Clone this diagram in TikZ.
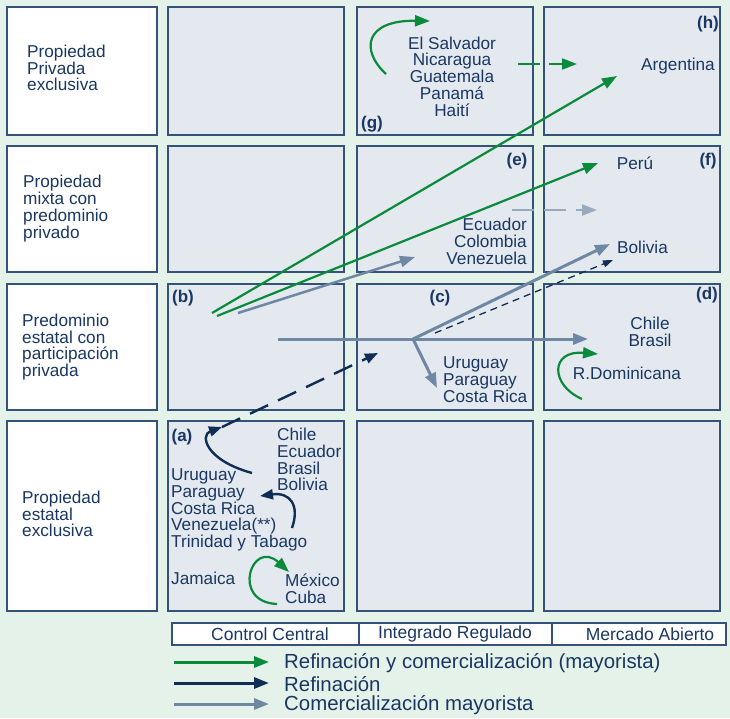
\documentclass[tikz,border=0pt]{standalone}
\usepackage{fontspec}
\setmainfont{Liberation Sans}
\usetikzlibrary{arrows.meta}
\definecolor{bgc}{HTML}{E4F2E9}
\definecolor{cellfill}{HTML}{E4E9EF}
\definecolor{cellline}{HTML}{34527A}
\definecolor{textc}{HTML}{1A3764}
\definecolor{grn}{HTML}{0A8B3C}
\definecolor{navy}{HTML}{0F2D55}
\definecolor{slate}{HTML}{6E87A2}
\definecolor{paleslate}{HTML}{9AAABD}
\begin{document}
\begin{tikzpicture}[x=1pt,y=-1pt,
  cellbox/.style={draw=cellline, fill=cellfill, line width=1.4pt, inner sep=0pt, outer sep=0pt, anchor=north west, minimum width=176pt},
  rowbox/.style={draw=cellline, fill=white, line width=1.4pt, inner sep=0pt, outer sep=0pt, anchor=north west, minimum width=150pt},
  legbox/.style={draw=cellline, fill=white, line width=1.4pt, inner sep=0pt, outer sep=0pt, anchor=north west, minimum height=22pt},
  txt/.style={text=textc, font=\fontsize{17.2}{16.75}\selectfont, inner sep=0pt},
  lettertag/.style={text=textc, font=\fontsize{17}{17}\selectfont\bfseries, inner sep=0pt},
  legtxt/.style={text=textc, font=\fontsize{20.4}{20.4}\selectfont, inner sep=0pt, anchor=west},
  bighead/.style={-{Triangle[length=15pt,width=11pt]}},
  grnarrow/.style={draw=grn, line width=2.2pt, bighead},
  slatearrow/.style={draw=slate, line width=3pt, bighead},
  navyarrow/.style={draw=navy, line width=2.4pt, -{Triangle[length=13pt,width=10pt]}}
]
\useasboundingbox (0,0) rectangle (730,718);
\fill[bgc] (0,0) rectangle (730,718);

% row headings
\node[rowbox, minimum height=128pt] (r1) at (7,7) {};
\node[rowbox, minimum height=126pt] (r2) at (7,146) {};
\node[rowbox, minimum height=126pt] (r3) at (7,284) {};
\node[rowbox, minimum height=190pt] (r4) at (7,421) {};
\node[txt, anchor=west, align=left] (r1t) at (27,68) {Propiedad\\Privada\\exclusiva};
\node[txt, anchor=west, align=left] (r2t) at (23,208.5) {Propiedad\\mixta con\\predominio\\privado};
\node[txt, anchor=west, align=left] (r3t) at (22,347) {Predominio\\estatal con\\participación\\privada};
\node[txt, anchor=west, align=left] (r4t) at (22,514) {Propiedad\\estatal\\exclusiva};

% matrix cells
\foreach \cx/\col in {168/1,357/2,544/3}{
  \node[cellbox, minimum height=128pt] (c1\col) at (\cx,7) {};
  \node[cellbox, minimum height=126pt] (c2\col) at (\cx,146) {};
  \node[cellbox, minimum height=126pt] (c3\col) at (\cx,284) {};
  \node[cellbox, minimum height=190pt] (c4\col) at (\cx,421) {};
}

% cell letters
\node[lettertag] (ta) at (182,437) {(a)};
\node[lettertag] (tb) at (183,298) {(b)};
\node[lettertag] (tc) at (440,298) {(c)};
\node[lettertag] (td) at (707,295) {(d)};
\node[lettertag] (te) at (517,161) {(e)};
\node[lettertag] (tf) at (708,161) {(f)};
\node[lettertag] (tg) at (372,124) {(g)};
\node[lettertag] (th) at (708,24) {(h)};

% country groups
\node[txt, align=center] (gG) at (452,76.5) {El Salvador\\Nicaragua\\Guatemala\\Panamá\\Haití};
\node[txt] (gH) at (678,66) {Argentina};
\node[txt, anchor=east, align=right] (gE) at (527,241.5) {Ecuador\\Colombia\\Venezuela};
\node[txt] (gF1) at (635,163) {Perú};
\node[txt, anchor=west] (gF2) at (617,247) {Bolivia};
\node[txt, anchor=west, align=left] (gC) at (443,379.5) {Uruguay\\Paraguay\\Costa Rica};
\node[txt, align=center] (gD1) at (650,331.5) {Chile\\Brasil};
\node[txt] (gD2) at (627,373) {R.Dominicana};
\node[txt, anchor=west, align=left] (gA1) at (277,459.5) {Chile\\Ecuador\\Brasil\\Bolivia};
\node[txt, anchor=west, align=left] (gA2) at (171,510) {Uruguay\\Paraguay\\Costa Rica\\Venezuela(**)\\Trinidad y Tabago};
\node[txt, anchor=west] (gA3) at (171,578) {Jamaica};
\node[txt, anchor=west, align=left] (gA4) at (285,589) {México\\Cuba};

% connector end points
\coordinate (gCurveS) at (386,74);
\coordinate (gCurveE) at (430,21);
\coordinate (gDashS) at (518,64);
\coordinate (hDashE) at (577,64);
\coordinate (bGrnA) at (212,313);
\coordinate (hTip) at (617,76);
\coordinate (bGrnB) at (217,316);
\coordinate (fTip) at (598,163);
\coordinate (bSlate) at (238,313);
\coordinate (eTip) at (415,257);
\coordinate (eDashS) at (512,210);
\coordinate (fDashE) at (597,210);
\coordinate (hLineS) at (278,339);
\coordinate (junc) at (413,339);
\coordinate (dTip) at (588,339);
\coordinate (bolTip) at (610,244);
\coordinate (cTip) at (437,388);
\coordinate (cDashS) at (435,333);
\coordinate (bolTip2) at (613,260);
\coordinate (dCurveS) at (582,399);
\coordinate (dCurveE) at (598,354);
\coordinate (aNavyS) at (252,473);
\coordinate (aNavyE) at (222,427);
\coordinate (cNavyE) at (378,353);
\coordinate (aNavy2S) at (292,528);
\coordinate (aNavy2E) at (260,496);
\coordinate (aGrnS) at (277,604);
\coordinate (aGrnE) at (289,572);

% refining and wholesale (green)
\draw[grnarrow] (gCurveS) .. controls (360,50) and (365,20) .. (gCurveE);
\draw[grnarrow, dash pattern=on 22pt off 9pt] (gDashS) -- (hDashE);
\draw[grnarrow] (bGrnA) -- (hTip);
\draw[grnarrow] (bGrnB) -- (fTip);
\draw[grnarrow] (dCurveS) .. controls (550,385) and (550,350) .. (dCurveE);
\draw[grnarrow] (aGrnS) .. controls (230,602) and (252,538) .. (aGrnE);

% wholesale (slate)
\draw[slatearrow, line width=2.5pt] (bSlate) -- (eTip);
\draw[draw=paleslate, line width=2.5pt, bighead, dash pattern=on 22pt off 10pt] (eDashS) -- (fDashE);
\draw[slatearrow] (hLineS) -- (dTip);
\draw[slatearrow] (junc) -- (bolTip);
\draw[slatearrow] (junc) -- (cTip);

% refining (navy)
\draw[draw=navy, line width=1.3pt, dash pattern=on 7pt off 5pt, -{Triangle[length=10pt,width=7pt]}] (cDashS) -- (bolTip2);
\draw[navyarrow] (aNavyS) .. controls (205,460) and (200,435) .. (aNavyE);
\draw[navyarrow, dash pattern=on 20pt off 11pt] (aNavyE) -- (cNavyE);
\draw[navyarrow] (aNavy2S) .. controls (300,505) and (290,492) .. (aNavy2E);

% column headings
\node[legbox, minimum width=187pt] (lc1) at (172,623) {};
\node[legbox, minimum width=193pt] (lc2) at (359,623) {};
\node[legbox, minimum width=174pt] (lc3) at (552,623) {};
\node[txt, font=\fontsize{17.5}{17.5}\selectfont] (lc1t) at (270,634) {Control Central};
\node[txt, font=\fontsize{17.5}{17.5}\selectfont] (lc2t) at (455,634) {Integrado Regulado};
\node[txt, font=\fontsize{17.5}{17.5}\selectfont] (lc3t) at (650,634) {Mercado Abierto};

% key
\coordinate (k1s) at (174,662); \coordinate (k1e) at (269,662);
\coordinate (k2s) at (174,683); \coordinate (k2e) at (269,683);
\coordinate (k3s) at (174,704); \coordinate (k3e) at (269,704);
\draw[draw=grn, line width=3pt, bighead] (k1s) -- (k1e);
\draw[draw=navy, line width=3pt, bighead] (k2s) -- (k2e);
\draw[draw=slate, line width=3pt, bighead] (k3s) -- (k3e);
\node[legtxt] (k1t) at (284,663) {Refinación y comercialización (mayorista)};
\node[legtxt] (k2t) at (284,684) {Refinación};
\node[legtxt] (k3t) at (284,705) {Comercialización mayorista};
\end{tikzpicture}
\end{document}
